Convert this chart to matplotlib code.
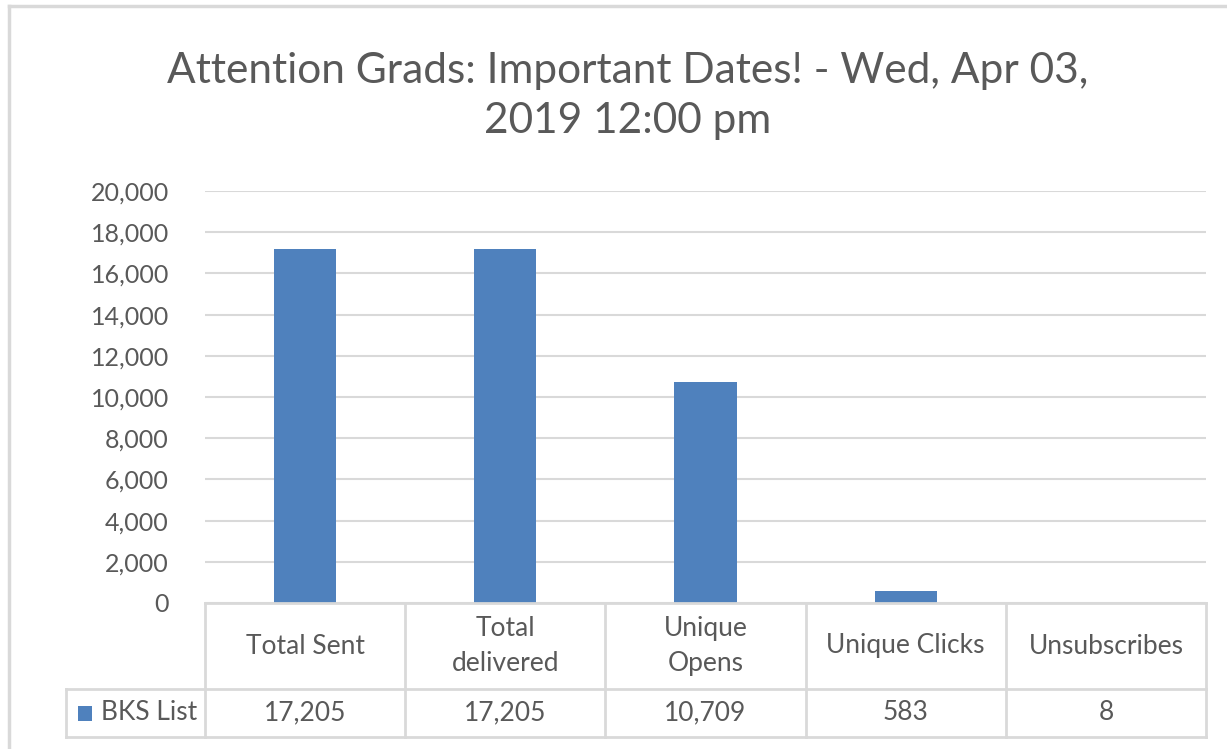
import matplotlib.pyplot as plt
from matplotlib.patches import Rectangle
from matplotlib.lines import Line2D
from matplotlib.ticker import FuncFormatter, MultipleLocator

categories = ["Total Sent", "Total\ndelivered", "Unique\nOpens", "Unique Clicks", "Unsubscribes"]
values = [17205, 17205, 10709, 583, 8]
series_name = "BKS List"
title = "Attention Grads: Important Dates! - Wed, Apr 03,\n2019 12:00 pm"

W, H = 1227, 749
FONT = ["Lato", "DejaVu Sans"]
TXT = "#595959"
GRID = "#D9D9D9"
BAR = "#4F81BD"

plt.rcParams['font.family'] = FONT
fig = plt.figure(figsize=(W / 100, H / 100), dpi=100)

def fx(px):
    return px / W

def fy(py):
    return 1 - py / H

left, right, top, bottom = 205, 1206, 191, 603
ax = fig.add_axes([fx(left), fy(bottom), fx(right - left), fy(top) - fy(bottom)])

x = list(range(len(categories)))
ax.bar(x, values, width=0.31, color=BAR, zorder=3)
ax.set_xlim(-0.5, len(categories) - 0.5)
ax.set_ylim(0, 20000)
ax.yaxis.set_major_locator(MultipleLocator(2000))
ax.yaxis.set_major_formatter(FuncFormatter(lambda v, p: f"{int(v):,}"))
ax.grid(axis='y', color=GRID, linewidth=1.5, zorder=0)
for s in ax.spines.values():
    s.set_visible(False)
ax.tick_params(axis='y', length=0, pad=26, labelsize=18, labelcolor=TXT)
ax.set_xticks([])

# Data table
trans = ax.get_xaxis_transform()
axh = bottom - top
def ay(py):
    return (bottom - py) / axh

row1 = ay(689)
row2 = ay(737)
lab_left = -0.5 - (left - 66) / ((right - left) / len(categories))
lw = 2
col = GRID
ax.add_line(Line2D([-0.5, len(categories) - 0.5], [0, 0], transform=trans, color=col, lw=lw, clip_on=False, zorder=4))
ax.add_line(Line2D([lab_left, len(categories) - 0.5], [row1, row1], transform=trans, color=col, lw=lw, clip_on=False))
ax.add_line(Line2D([lab_left, len(categories) - 0.5], [row2, row2], transform=trans, color=col, lw=lw, clip_on=False))
for i in range(len(categories) + 1):
    xv = i - 0.5
    ax.add_line(Line2D([xv, xv], [0, row2], transform=trans, color=col, lw=lw, clip_on=False))
ax.add_line(Line2D([lab_left, lab_left], [row1, row2], transform=trans, color=col, lw=lw, clip_on=False))

for i, (c, v) in enumerate(zip(categories, values)):
    ax.text(i, row1 / 2, c, transform=trans, ha='center', va='center', fontsize=19,
            color=TXT, linespacing=1.5)
    ax.text(i, (row1 + row2) / 2, f"{v:,}", transform=trans, ha='center', va='center',
            fontsize=19, color=TXT)

fig.patches.append(Rectangle((fx(78), fy(721)), fx(14), fy(706) - fy(721), transform=fig.transFigure,
                             facecolor=BAR, edgecolor='none'))
fig.text(fx(101), fy(713), series_name, ha='left', va='center', fontsize=19, color=TXT)

fig.text(fx(628), fy(96), title, ha='center', va='center', fontsize=30.5, color=TXT, linespacing=1.38)

fig.add_artist(Line2D([fx(9), fx(9)], [0, fy(6)], transform=fig.transFigure, color=GRID, lw=2.5))
fig.add_artist(Line2D([fx(9), 1], [fy(6), fy(6)], transform=fig.transFigure, color=GRID, lw=2.5))

fig.savefig("out.png", dpi=100)
